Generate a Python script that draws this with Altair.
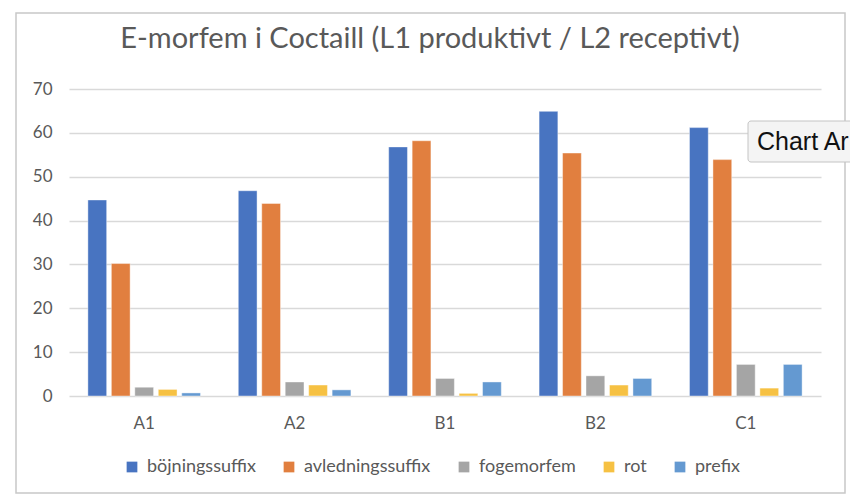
import altair as alt
import pandas as pd

categories = ["A1", "A2", "B1", "B2", "C1"]
series = ["böjningssuffix", "avledningssuffix", "fogemorfem", "rot", "prefix"]
colors = ["#4874C1", "#E17F3F", "#A5A5A5", "#F6C143", "#6499D1"]

bojningssuffix = [44.7, 46.8, 56.8, 64.9, 61.2]
avledningssuffix = [30.2, 43.9, 58.2, 55.4, 53.9]
fogemorfem = [2.0, 3.2, 4.0, 4.6, 7.2]
rot = [1.5, 2.5, 0.6, 2.5, 1.8]
prefix = [0.7, 1.4, 3.2, 4.0, 7.2]

title_text = "E-morfem i Coctaill (L1 produktivt / L2 receptivt)"

values = [bojningssuffix, avledningssuffix, fogemorfem, rot, prefix]
rows = []
for s, vals in zip(series, values):
    for c, v in zip(categories, vals):
        rows.append({"niva": c, "serie": s, "varde": v})
df = pd.DataFrame(rows)

FONT = "Lato"
GREY = "#595959"

bars = alt.Chart(df).mark_bar(stroke="white", strokeWidth=0.6, strokeOpacity=0.7).encode(
    x=alt.X("niva:N", sort=categories, title=None,
            scale=alt.Scale(paddingInner=0.22, paddingOuter=0.11),
            axis=alt.Axis(labelAngle=0, labelFont=FONT, labelFontSize=17, labelColor=GREY,
                          ticks=False, tickSize=0, labelPadding=19, domain=False, grid=False)),
    xOffset=alt.XOffset("serie:N", sort=series,
                        scale=alt.Scale(paddingInner=0.2, paddingOuter=0.1)),
    y=alt.Y("varde:Q", title=None,
            scale=alt.Scale(domain=[0, 70], nice=False),
            axis=alt.Axis(values=[0, 10, 20, 30, 40, 50, 60, 70], labelFont=FONT, labelFontSize=17,
                          labelColor=GREY, ticks=False, tickSize=0, labelPadding=17,
                          domain=False, gridColor="#D9D9D9", gridWidth=1.5)),
    color=alt.Color("serie:N", sort=series,
                    scale=alt.Scale(domain=series, range=colors),
                    legend=alt.Legend(title=None, orient="none", direction="horizontal",
                                      legendX=54, legendY=369, symbolType="square",
                                      symbolSize=115, symbolStrokeWidth=0, labelFont=FONT,
                                      labelFontSize=18, labelColor=GREY, labelOffset=6,
                                      columnPadding=24, padding=0)),
)

title = alt.Chart(pd.DataFrame({"t": [title_text]})).mark_text(
    font=FONT, fontSize=29, color=GREY, align="center", baseline="alphabetic"
).encode(x=alt.value(361), y=alt.value(-41), text="t:N")

frame = alt.Chart(pd.DataFrame({"a": [0]})).mark_rect(
    fill=None, stroke="#C8C8C8", strokeWidth=1.5
).encode(x=alt.value(-53), x2=alt.value(776), y=alt.value(-76), y2=alt.value(404))

tipbox = alt.Chart(pd.DataFrame({"a": [0]})).mark_rect(
    fill="#F4F4F4", stroke="#C4C4C4", strokeWidth=1, cornerRadius=3
).encode(x=alt.value(679), x2=alt.value(800), y=alt.value(32), y2=alt.value(73))

tiptext = alt.Chart(pd.DataFrame({"t": ["Chart Ar"]})).mark_text(
    font="Liberation Sans", fontSize=25, color="#111111", align="left", baseline="middle"
).encode(x=alt.value(688), y=alt.value(53), text="t:N")

chart = alt.layer(bars, title, frame, tipbox, tiptext).properties(
    width=752, height=307,
    background="white",
    autosize=alt.AutoSizeParams(type="none"),
    padding={"left": 61, "top": 81, "right": 29, "bottom": 98},
).configure_view(strokeWidth=0, stroke="transparent")

chart.save("out.html", embed_options={"renderer": "svg", "actions": False})
